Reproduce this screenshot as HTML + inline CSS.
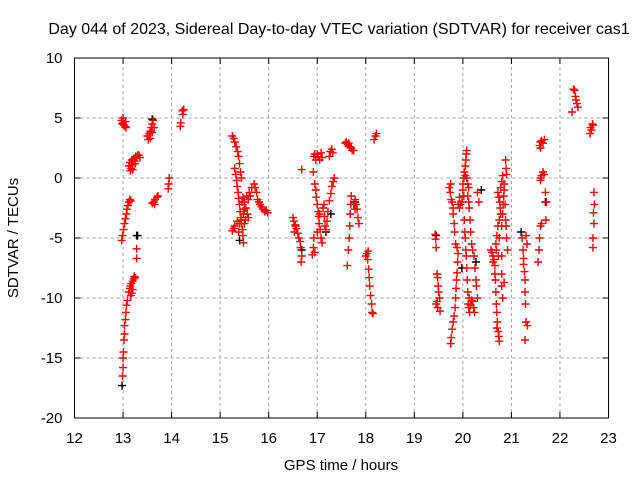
<!DOCTYPE html>
<html><head><meta charset="utf-8"><style>
body{margin:0;background:#fff}
svg{display:block;font-family:"Liberation Sans",sans-serif}
</style></head><body>
<svg id="chart" width="640" height="480" xmlns="http://www.w3.org/2000/svg">
<rect width="640" height="480" fill="#fff"/>
<text x="339" y="34" font-size="16" text-anchor="middle">Day 044 of 2023, Sidereal Day-to-day VTEC variation (SDTVAR) for receiver cas1</text>
<g id="grid"></g><g id="ticks"></g><g id="marks"></g>
<rect x="74.5" y="58" width="534" height="360" fill="none" stroke="#000" stroke-width="1"/>
<text x="341" y="470" font-size="15" text-anchor="middle">GPS time / hours</text>
<text transform="translate(18,238) rotate(-90)" font-size="15" text-anchor="middle">SDTVAR / TECUs</text>
</svg>
<script>
const xTicks=[12,13,14,15,16,17,18,19,20,21,22,23];
const yTicks=[10,5,0,-5,-10,-15,-20];
const redTimes=[12.99,13.0,13.0,13.01,13.02,13.03,13.03,13.05,13.06,13.07,13.09,
13.12,13.14,13.15,13.17,13.2,13.22,13.2,13.18,13.16,13.23,13.25,13.28,13.28,
12.97,12.99,13.01,13.03,13.05,13.07,13.08,13.1,13.12,13.14,13.16,
12.97,12.98,13.0,13.02,13.04,13.06,13.0,13.05,
13.12,13.14,13.16,13.18,13.2,13.22,13.24,13.26,13.28,13.3,13.33,13.35,13.15,13.2,13.25,
13.5,13.52,13.54,13.56,13.58,13.6,13.62,13.64,13.56,13.6,
13.6,13.63,13.66,13.7,13.72,13.65,13.95,13.94,13.93,
14.18,14.19,14.23,14.25,14.22,
15.25,15.28,15.3,15.33,15.36,15.38,15.4,15.42,15.44,
15.3,15.32,15.34,15.35,15.37,15.38,15.4,15.41,15.43,15.44,15.46,15.47,15.48,
15.25,15.28,15.3,15.35,15.38,15.4,15.44,15.48,15.5,15.53,15.56,15.58,15.5,15.55,15.6,15.62,15.58,15.65,15.7,15.72,15.75,15.77,15.8,15.82,15.85,15.88,15.92,15.95,15.98,15.45,15.47,15.5,15.52,
16.5,16.52,16.55,16.57,16.6,16.62,16.65,16.66,16.68,16.67,16.53,16.55,16.68,
16.93,16.95,16.97,17.0,17.02,17.05,17.08,17.1,
16.95,16.97,16.98,17.0,17.02,17.03,17.04,17.06,17.08,17.1,16.93,16.92,16.9,16.95,17.0,17.05,17.12,17.14,17.15,17.16,17.18,17.2,17.22,17.25,17.28,17.3,17.33,17.35,16.92,
17.27,17.3,17.32,17.25,
17.58,17.6,17.63,17.67,17.7,17.72,17.75,17.65,
17.7,17.69,17.68,17.67,17.66,17.64,17.62,
17.78,17.8,17.82,17.84,17.86,17.78,17.75,
18.0,18.02,18.04,18.06,18.07,18.08,18.1,18.12,18.13,18.15,18.05,
18.17,18.2,18.22,
19.43,19.44,19.45,19.47,19.48,19.49,19.5,19.52,19.47,19.45,19.48,19.53,
19.75,19.76,19.78,19.8,19.82,19.84,19.85,19.86,19.87,19.88,19.89,19.9,19.88,19.85,19.83,19.82,19.8,19.8,19.78,19.76,19.74,19.72,19.75,
19.9,19.93,19.95,19.98,19.93,
20.0,20.02,20.03,20.05,20.06,20.07,20.08,20.05,20.08,20.1,20.12,20.1,20.12,20.13,20.0,20.02,
20.03,20.04,20.05,20.06,20.07,20.08,20.09,20.1,20.11,20.12,20.14,20.16,20.18,20.2,20.22,20.24,20.13,
20.15,20.16,20.18,20.2,20.23,20.25,20.27,20.28,20.3,20.3,20.33,
20.6,20.62,20.64,20.66,20.58,20.62,
20.66,20.67,20.68,20.69,20.7,20.71,20.73,20.74,20.75,20.7,
20.72,20.74,20.76,20.77,20.78,20.75,20.72,20.7,20.68,20.69,20.73,20.75,20.8,20.82,20.83,20.84,20.85,20.85,20.8,20.78,20.82,20.87,20.88,20.89,20.9,20.92,
20.88,20.89,20.9,20.8,20.8,20.8,20.82,20.85,
21.25,21.25,21.27,21.28,21.28,21.29,21.3,21.33,21.28,21.32,21.3,21.22,21.24,
21.55,21.57,21.58,21.6,21.62,
21.6,21.62,21.65,21.67,21.6,
21.6,21.62,21.65,21.68,21.58,21.6,
21.7,21.72,21.71,
22.25,22.28,22.3,22.32,22.35,22.37,22.33,
22.62,22.65,22.67,22.68,22.63,
22.7,22.71,22.69,22.7,22.68,22.68];
const redValues=[-16.5,-15.8,-15.0,-14.5,-13.5,-13,-12.3,-11.8,-11.2,-10.6,-10.2,
-9.5,-9.2,-9,-8.8,-8.6,-8.4,-9.3,-9.6,-9.8,-8.2,-8.3,-6.7,-5.9,
-5.2,-4.8,-4.3,-3.8,-3.4,-3,-2.6,-2.3,-2,-1.8,-1.9,
4.8,4.5,4.6,4.4,4.3,4.2,5.0,4.7,
1.0,1.3,0.8,1.5,1.1,1.6,1.4,1.8,1.7,1.9,1.9,1.7,0.6,0.7,1.2,
3.5,3.2,3.7,3.9,4.2,4.5,4.8,4.2,3.3,3.8,
-2.1,-2,-1.8,-1.6,-1.5,-2.2,0,-0.5,-0.9,
4.3,4.6,5.3,5.7,5.6,
3.5,3.3,3.0,2.6,2.2,1.8,1.2,0.5,0,
0.8,0.3,-0.2,-0.7,-1.2,-1.7,-2.2,-2.8,-3.3,-3.8,-4.3,-4.8,-5.4,
-4.4,-4.2,-4.0,-3.6,-4.5,-3.8,-3.5,-3,-2.6,-2.5,-3,-3.3,-2,-1.5,-1.2,-1.5,-1.8,-0.8,-0.5,-0.8,-1.2,-1.8,-2,-2.2,-2.4,-2.6,-2.8,-2.7,-2.9,-2,-1.6,-3.8,-3.5,
-3.3,-3.6,-3.9,-4.2,-4.6,-5,-5.3,-5.8,-6.5,-7,-4.5,-4,0.7,
1.8,2.0,1.5,2.0,1.8,1.5,2.1,1.7,
-0.5,-1,-1.6,-2.2,-2.8,-3.2,-3.8,-4.3,-5,-5.4,-5,-5.8,-6.4,-6.2,-4.5,-3,-2.5,-2.2,-3.2,-4,-4.3,-3.6,-2.8,-1.9,-1.3,-0.7,-0.3,0,0.5,
2.2,2.4,2.1,1.8,
2.9,3.0,2.8,2.6,2.5,2.3,2.3,2.9,
-1.5,-2.2,-3.0,-4,-5,-6,-7.3,
-1.8,-2.2,-2.6,-3.3,-3.8,-2.6,-2.2,
-6.5,-6.3,-6.8,-7.6,-8.3,-9,-9.8,-10.5,-11.2,-11.3,-6.1,
3.2,3.5,3.7,
-4.7,-5.1,-5.8,-8,-8.3,-9,-9.5,-10,-10.3,-10.5,-10.8,-11.1,
-13.8,-13.3,-12.6,-12,-11.5,-10.8,-10,-9.2,-8.5,-7.9,-7,-6.3,-5.8,-5.5,-4.5,-3.8,-3,-2.5,-2,-1.8,-1.2,-0.8,-0.5,
-2.2,-2.5,-2.2,-2,-1.6,
-0.5,0,0.5,1,1.5,2,2.3,0.2,0,-0.5,-0.8,-1.5,-2,-2.5,-1,-1.5,
-3.5,-4.5,-5,-6,-6.5,-7.5,-8.5,-9.5,-10.5,-10.8,-11.2,-10.6,-10.2,-10.3,-10.8,-11.2,-10,
-3.5,-4.5,-5.5,-6,-6.5,-7.5,-8.5,-9,-10,-1.2,-2,
-6.2,-6.5,-6.8,-7.3,-6,-7,
-8,-8.5,-9.5,-10.5,-11.2,-12,-12.8,-13.2,-13.6,-12.5,
-1.2,-1.6,-2,-2.5,-3,-3.5,-4,-4.8,-5.5,-6,-6.5,-5,-4,-3,-2.2,-1.5,-1,-0.5,-0.3,-0.8,0.2,-2.2,-3.5,-4,-5,-6,
1.5,0.8,0.3,-6.5,-8,-9,-10,-8.7,
-6.7,-7.2,-7.8,-8.5,-9.5,-10.5,-12,-12.3,-13.5,-5.5,-4.8,-5,-6,
-7,-6,-5,-4,-3.8,
0,0.2,0.5,0.3,-0.2,
3,3.1,2.9,3.2,2.7,2.5,
-1.2,-2,-3.5,
5.5,7.4,7.3,6.8,6.2,5.9,6.5,
3.7,4,4.5,4.4,4.2,
-1.2,-2.2,-2.9,-3.8,-5,-5.8];
const blackTimes=[12.98,13.3,13.6,15.4,16.68,17.18,17.28,17.78,19.45,20.38,21.2,21.7,20.27,19.98,13.28];
const blackValues=[-17.3,-4.8,4.9,-5.2,-6,-4.5,-3,-2,-4.8,-1,-4.5,-2,-7,-7.5,-4.8];

const X0=74.5,X1=608.5,Y0=418,Y1=58;
function xs(t){return X0+(t-12)/11*(X1-X0);}
function ys(v){return Y0-(v+20)/30*(Y0-Y1);}
const NS='http://www.w3.org/2000/svg';
function mk(tag,attrs,parent){const e=document.createElementNS(NS,tag);for(const k in attrs)e.setAttribute(k,attrs[k]);parent.appendChild(e);return e;}
const grid=document.getElementById('grid'),ticks=document.getElementById('ticks'),marks=document.getElementById('marks');
xTicks.forEach(t=>{const x=xs(t);
 if(t>12&&t<23){const g=mk('line',{x1:x,x2:x,y1:Y0,y2:Y1,stroke:'#a0a0a0','stroke-dasharray':'3,3'},grid);
 
 }
 mk('line',{x1:x,x2:x,y1:Y0,y2:Y0-6,stroke:'#000'},ticks);
 mk('line',{x1:x,x2:x,y1:Y1,y2:Y1+6,stroke:'#000'},ticks);
 const l=mk('text',{x:x,y:Y0+25,'font-size':15,'text-anchor':'middle'},ticks);l.textContent=t;
 
 
});
yTicks.forEach(v=>{const y=ys(v);
 if(v>-20&&v<10){const g=mk('line',{x1:X0,x2:X1,y1:y,y2:y,stroke:'#a0a0a0','stroke-dasharray':'3,3'},grid);
 
 }
 mk('line',{x1:X0,x2:X0+6,y1:y,y2:y,stroke:'#000'},ticks);
 mk('line',{x1:X1,x2:X1-6,y1:y,y2:y,stroke:'#000'},ticks);
 const l=mk('text',{x:X0-12,y:y+5,'font-size':15,'text-anchor':'end'},ticks);l.textContent=v;
 
 
});
function plus(t,v,col,name){const x=xs(t),y=ys(v);
 const p=mk('path',{d:`M${x-4},${y}H${x+4}M${x},${y-4}V${y+4}`,stroke:col,'stroke-width':1.4,fill:'none'},marks);
 
 
}
blackTimes.forEach((t,i)=>plus(t,blackValues[i],'#000','black-point'));
redTimes.forEach((t,i)=>plus(t,redValues[i],'#ff0000','sdtvar-point'));
</script>
</body></html>
